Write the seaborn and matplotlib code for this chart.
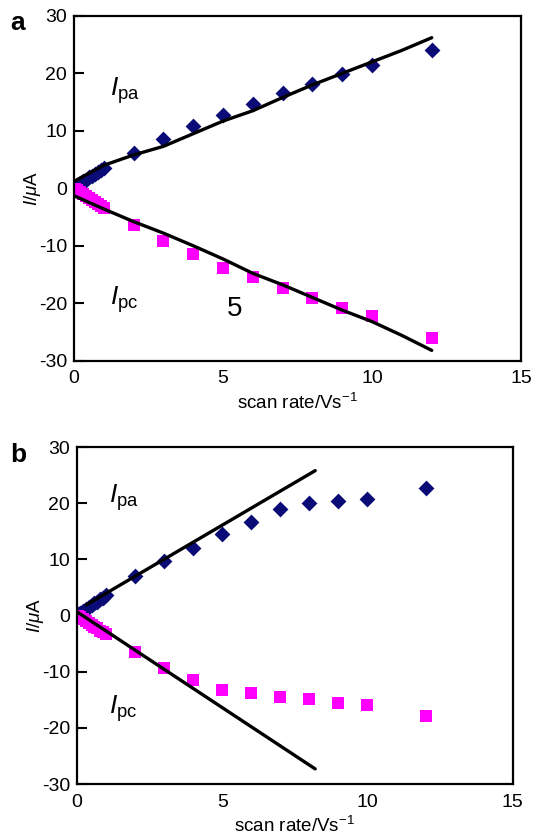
# Peak current vs scan rate, panels a and b
import numpy as np
import pandas as pd
import matplotlib
matplotlib.use("Agg")
import matplotlib.pyplot as plt
import seaborn as sns

# Scan rates (V/s)
scan_rate = [0.05, 0.1, 0.2, 0.3, 0.4, 0.5, 0.6, 0.7, 0.8, 0.9, 1, 2, 3, 4, 5, 6, 7, 8, 9, 10, 12]

# Panel a - experimental peaks
ipa_a = [0.3, 0.5, 0.9, 1.2, 1.5, 1.9, 2.2, 2.5, 2.9, 3.2, 3.6, 6.2, 8.6, 10.8, 12.8, 14.6, 16.6, 18.2, 19.8, 21.4, 24.0]
ipc_a = [-0.1, -0.3, -0.7, -1.0, -1.4, -1.7, -2.1, -2.4, -2.8, -3.1, -3.5, -6.4, -9.1, -11.4, -13.8, -15.4, -17.4, -19.1, -20.9, -22.2, -26.0]

# Panel a - simulated curves
sim_rate_a = [0, 1, 2, 3, 4, 5, 6, 7, 8, 9, 10, 11, 12]
sim_ipa_a = [1.2, 4.0, 5.8, 7.3, 9.5, 11.7, 13.5, 15.8, 18.0, 20.0, 22.0, 24.0, 26.2]
sim_ipc_a = [-1.3, -3.6, -5.8, -7.8, -10.0, -12.3, -14.8, -16.8, -19.0, -21.2, -23.2, -25.6, -28.2]

# Panel b - experimental peaks
ipa_b = [0.3, 0.5, 0.9, 1.2, 1.5, 1.9, 2.2, 2.5, 2.9, 3.2, 3.6, 7.1, 9.7, 12.0, 14.5, 16.6, 19.0, 20.0, 20.4, 20.7, 22.7]
ipc_b = [-0.1, -0.3, -0.7, -1.0, -1.4, -1.7, -2.0, -2.3, -2.7, -3.0, -3.3, -6.4, -9.4, -11.4, -13.2, -13.8, -14.5, -14.8, -15.5, -15.9, -17.9]

# Panel b - linear fits
fit_rate_pa_b = [0.32, 8.2]
fit_ipa_b = [1.9, 25.8]
fit_rate_pc_b = [0.02, 8.2]
fit_ipc_b = [0.6, -27.3]

sns.set_style("ticks")
plt.rcParams["font.family"] = ["Liberation Sans", "DejaVu Sans"]
plt.rcParams["mathtext.fontset"] = "custom"
plt.rcParams["mathtext.rm"] = "Liberation Sans"
plt.rcParams["mathtext.it"] = "Liberation Sans:italic"
plt.rcParams["mathtext.bf"] = "Liberation Sans:bold"
plt.rcParams["axes.unicode_minus"] = False
plt.rcParams["text.color"] = "black"
plt.rcParams["axes.labelcolor"] = "black"
plt.rcParams["xtick.color"] = "black"
plt.rcParams["ytick.color"] = "black"
plt.rcParams["axes.edgecolor"] = "black"

navy = "#0b0b78"
magenta = "#ff00ff"

fig = plt.figure(figsize=(5.44, 8.35), dpi=100)
ax_a = fig.add_axes([0.136, 0.568, 0.822, 0.413])
ax_b = fig.add_axes([0.1415, 0.061, 0.801, 0.4036])


def style_axis(ax):
    ax.set_xlim(0, 15)
    ax.set_ylim(-30, 30)
    ax.set_xticks([0, 5, 10, 15])
    ax.set_yticks([-30, -20, -10, 0, 10, 20, 30])
    ax.tick_params(direction="in", length=7, width=1.5, labelsize=14, pad=5)
    ax.tick_params(axis="x", length=0, pad=7)
    for sp in ax.spines.values():
        sp.set_visible(True)
        sp.set_linewidth(1.6)
    ax.set_xlabel("scan rate/Vs$^{-1}$", fontsize=13.5, labelpad=4)
    ax.set_ylabel(r"$I/\mu$A", fontsize=13.5, labelpad=-3)


# Panel a
df_a = pd.DataFrame({"rate": scan_rate, "ipa": ipa_a, "ipc": ipc_a})
sim_a = pd.DataFrame({"rate": sim_rate_a, "ipa": sim_ipa_a, "ipc": sim_ipc_a})
sns.scatterplot(data=df_a, x="rate", y="ipa", marker="D", s=65, color=navy,
                edgecolor=navy, linewidth=0, ax=ax_a, zorder=2)
sns.scatterplot(data=df_a, x="rate", y="ipc", marker="s", s=75, color=magenta,
                edgecolor=magenta, linewidth=0, ax=ax_a, zorder=2)
sns.lineplot(data=sim_a, x="rate", y="ipa", color="black", linewidth=2.4, ax=ax_a, zorder=3)
sns.lineplot(data=sim_a, x="rate", y="ipc", color="black", linewidth=2.4, ax=ax_a, zorder=3)
style_axis(ax_a)
ax_a.text(1.7, 17.0, r"$I_{\mathrm{pa}}$", fontsize=19, ha="center", va="center")
ax_a.text(1.7, -19.3, r"$I_{\mathrm{pc}}$", fontsize=19, ha="center", va="center")
ax_a.text(5.4, -21.0, "5", fontsize=20, ha="center", va="center")
fig.text(0.018, 0.972, "a", fontsize=19, fontweight="bold", va="center")

# Panel b
df_b = pd.DataFrame({"rate": scan_rate, "ipa": ipa_b, "ipc": ipc_b})
sns.scatterplot(data=df_b, x="rate", y="ipa", marker="D", s=65, color=navy,
                edgecolor=navy, linewidth=0, ax=ax_b, zorder=2)
sns.scatterplot(data=df_b, x="rate", y="ipc", marker="s", s=75, color=magenta,
                edgecolor=magenta, linewidth=0, ax=ax_b, zorder=2)
sns.lineplot(x=fit_rate_pa_b, y=fit_ipa_b, color="black", linewidth=2.4, ax=ax_b, zorder=3)
sns.lineplot(x=fit_rate_pc_b, y=fit_ipc_b, color="black", linewidth=2.4, ax=ax_b, zorder=3)
style_axis(ax_b)
ax_b.text(1.6, 21.0, r"$I_{\mathrm{pa}}$", fontsize=19, ha="center", va="center")
ax_b.text(1.6, -16.5, r"$I_{\mathrm{pc}}$", fontsize=19, ha="center", va="center")
fig.text(0.018, 0.455, "b", fontsize=19, fontweight="bold", va="center")

fig.savefig("out.png", dpi=100)
